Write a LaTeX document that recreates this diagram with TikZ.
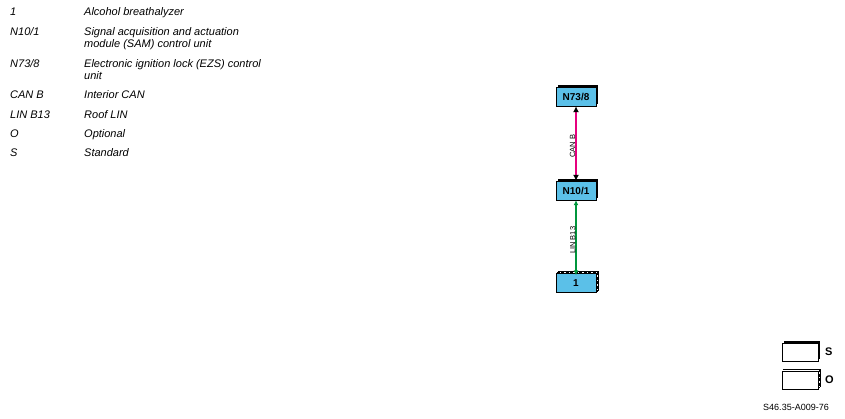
\documentclass[tikz,border=0pt]{standalone}
\usepackage{fontspec}
\setmainfont{Liberation Sans}
\usetikzlibrary{arrows.meta,shadows}
\definecolor{ecublue}{RGB}{91,192,232}
\definecolor{canpink}{RGB}{230,0,126}
\definecolor{lingreen}{RGB}{0,150,60}
\begin{document}
\begin{tikzpicture}[
x=1pt, y=-1pt,
term/.style={anchor=base west, inner sep=0pt, font=\fontsize{11}{12}\selectfont\itshape},
stdunit/.style={rectangle, draw=black, fill=ecublue, thin, minimum width=40pt, minimum height=19pt, inner sep=0pt,
  font=\fontsize{10}{11}\selectfont\bfseries,
  drop shadow={shadow xshift=2pt, shadow yshift=2pt, fill=black, opacity=1}},
optunit/.style={rectangle, draw=black, fill=ecublue, thin, minimum width=40pt, minimum height=19pt, inner sep=0pt,
  font=\fontsize{10}{11}\selectfont\bfseries},
busname/.style={rotate=90, anchor=south, inner sep=0pt, xshift=-2.5pt, font=\fontsize{7.5}{8}\selectfont},
legendbox/.style={rectangle, draw=black, fill=white, thin, minimum width=36pt, minimum height=18pt, inner sep=0pt},
]
\useasboundingbox (0,0) rectangle (845,419);
% legend text
\node[term] (k1) at (10,16) {1};
\node[term] (t1) at (84,16) {Alcohol breathalyzer};
\node[term] (k2) at (10,36) {N10/1};
\node[term] (t2) at (84,36) {Signal acquisition and actuation};
\node[term] (t2b) at (84,48) {module (SAM) control unit};
\node[term] (k3) at (10,68) {N73/8};
\node[term] (t3) at (84,68) {Electronic ignition lock (EZS) control};
\node[term] (t3b) at (84,80) {unit};
\node[term] (k4) at (10,99) {CAN B};
\node[term] (t4) at (84,99) {Interior CAN};
\node[term] (k5) at (10,119) {LIN B13};
\node[term] (t5) at (84,119) {Roof LIN};
\node[term] (k6) at (10,138) {O};
\node[term] (t6) at (84,138) {Optional};
\node[term] (k7) at (10,157) {S};
\node[term] (t7) at (84,157) {Standard};
% control units
\node[stdunit] (N738) at (576,96.5) {N73/8};
\node[stdunit] (N101) at (576,190.5) {N10/1};
\node[optunit] (A1) at (576,283) {1};
\draw[black, line width=0.6pt] ([shift={(2,-2)}]A1.north west) -- ([shift={(2,-2)}]A1.north east) -- ([shift={(2,-2)}]A1.south east);
\draw[black, line width=1.2pt, dash pattern=on 3pt off 1.5pt] ([shift={(1,-1)}]A1.north west) -- ([shift={(1,-1)}]A1.north east) -- ([shift={(1,-1)}]A1.south east);
% buses
\draw[canpink, line width=1.8pt, {Latex[black,length=6pt,width=6pt]}-{Latex[black,length=6pt,width=6pt]}] (N738.south) -- (N101.north)
  node[midway, busname, black] (canb) {CAN B};
\draw[lingreen, line width=1.3pt, {Latex[length=5pt,width=5pt]}-{Latex[length=5pt,width=5pt]}] (N101.south) -- ([yshift=-2pt]A1.north)
  node[midway, busname, black] (linb13) {LIN B13};
% key
\node[legendbox, drop shadow={shadow xshift=2pt, shadow yshift=2pt, fill=black, opacity=1}] (keyS) at (800,352) {};
\node[anchor=west, inner sep=0pt, font=\fontsize{11}{12}\selectfont\bfseries] (labS) at (825,352) {S};
\node[legendbox] (keyO) at (800,380) {};
\draw[black, line width=0.6pt] ([shift={(2,-2)}]keyO.north west) -- ([shift={(2,-2)}]keyO.north east) -- ([shift={(2,-2)}]keyO.south east);
\draw[black, line width=1.2pt, dash pattern=on 3pt off 1.5pt] ([shift={(1,-1)}]keyO.north west) -- ([shift={(1,-1)}]keyO.north east) -- ([shift={(1,-1)}]keyO.south east);
\node[anchor=west, inner sep=0pt, font=\fontsize{11}{12}\selectfont\bfseries] (labO) at (825,380) {O};
\node[inner sep=0pt, font=\fontsize{9}{10}\selectfont] (ref) at (796,407) {S46.35-A009-76};
\end{tikzpicture}
\end{document}
